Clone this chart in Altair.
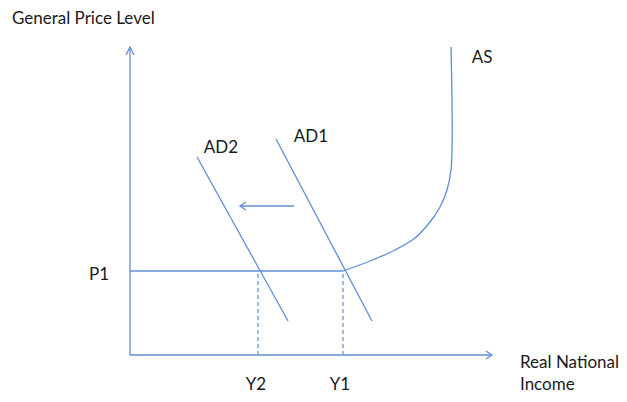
import altair as alt
import pandas as pd

# Diagram coordinates (x = income units, y = price units), origin at axes corner
line_ids = (
    ["yaxis"] * 2 + ["yhead"] * 3 + ["xaxis"] * 2 + ["xhead"] * 3 +
    ["p1"] * 2 + ["ad2"] * 2 + ["ad1"] * 2 + ["shift"] * 2 + ["shifthead"] * 3
)
line_x = [0, 0, -4, 0, 4, 0, 362, 356, 362, 356,
          0, 213, 67, 158, 146, 242, 164, 110, 116, 110, 116]
line_y = [0, 308, 300, 308, 300, 0, 0, 4, 0, -4,
          84, 84, 198, 34, 216, 34, 149, 149, 153, 149, 145]

as_x = [213, 240, 265, 285, 300, 310, 317, 321, 322, 322, 321]
as_y = [84, 94, 105, 117, 133, 148, 165, 185, 205, 255, 308]

dash_ids = ["y2", "y2", "y1", "y1"]
dash_x = [128, 128, 213, 213]
dash_y = [0, 84, 0, 84]

label_text = ["General Price Level", "AS", "AD1", "AD2", "P1", "Y2", "Y1", "Real National", "Income"]
label_x = [-118, 352, 181, 91, -31, 126, 210, 390, 390]
label_y = [331, 292, 213, 202, 75, -35, -35, -13, -35]
label_align = ["left", "center", "center", "center", "center", "center", "center", "left", "left"]

lines = pd.DataFrame({"id": line_ids, "x": line_x, "y": line_y})
lines["o"] = range(len(lines))
curve = pd.DataFrame({"x": as_x, "y": as_y})
curve["o"] = range(len(curve))
dashes = pd.DataFrame({"id": dash_ids, "x": dash_x, "y": dash_y})
labels = pd.DataFrame({"t": label_text, "x": label_x, "y": label_y, "a": label_align})

xs = alt.Scale(domain=[-122, 489], nice=False, zero=False)
ys = alt.Scale(domain=[-39, 347], nice=False, zero=False)
X = alt.X("x:Q", scale=xs, axis=None)
Y = alt.Y("y:Q", scale=ys, axis=None)
COL = "#5f8fd4"

solid = alt.Chart(lines).mark_line(color=COL, strokeWidth=1.3).encode(
    x=X, y=Y, detail="id:N", order="o:Q")
as_curve = alt.Chart(curve).mark_line(color=COL, strokeWidth=1.3, interpolate="catmull-rom").encode(
    x=X, y=Y, order="o:Q")
dashed = alt.Chart(dashes).mark_line(color=COL, strokeWidth=1.2, strokeDash=[4, 3]).encode(
    x=X, y=Y, detail="id:N")

def txt(align):
    return alt.Chart(labels).transform_filter(alt.datum.a == align).mark_text(
        font="Lato", fontSize=17, color="#1a1a1a", align=align, baseline="alphabetic"
    ).encode(x=X, y=Y, text="t:N")

chart = alt.layer(solid, as_curve, dashed, txt("left"), txt("center")).properties(
    width=611, height=386, autosize="none", padding=0
).configure_view(stroke=None)

chart.save("out.html", embed_options={"renderer": "svg", "actions": False})
